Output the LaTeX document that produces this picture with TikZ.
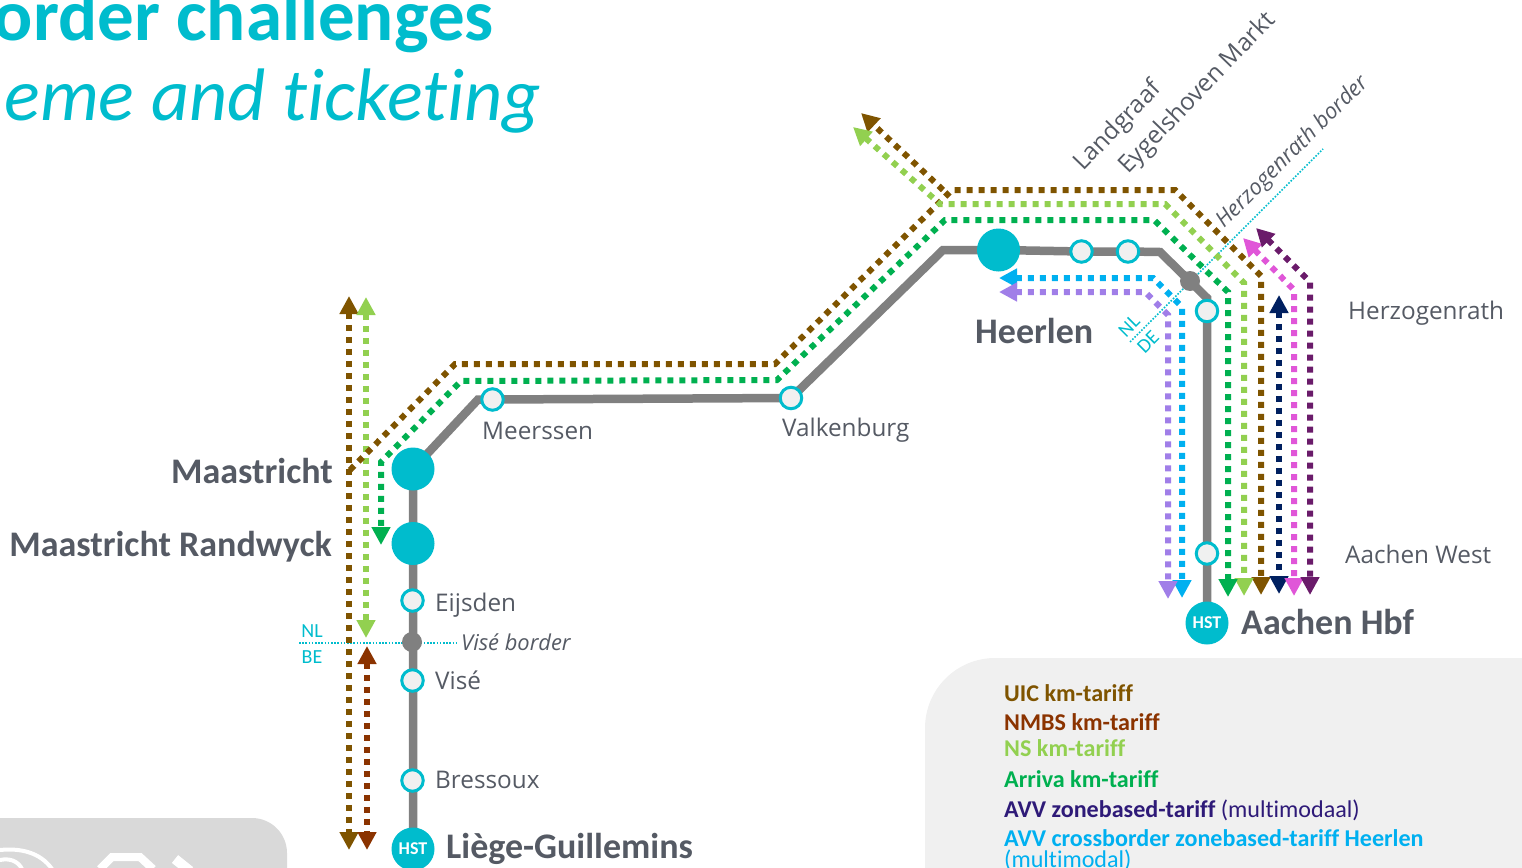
\documentclass[tikz,border=0pt]{standalone}
\usepackage{fontspec}
\setmainfont{Open Sans}
\newfontfamily\carl[Ligatures=NoCommon]{Carlito}
\usetikzlibrary{arrows.meta,backgrounds}
\definecolor{teal1}{HTML}{00BCCD}
\definecolor{ringfill}{HTML}{F0F0F0}
\definecolor{trackgrey}{HTML}{808080}
\definecolor{labelgrey}{HTML}{555A64}
\definecolor{uic}{HTML}{7F5400}
\definecolor{nmbs}{HTML}{8B3300}
\definecolor{nsg}{HTML}{92D050}
\definecolor{arriva}{HTML}{00B050}
\definecolor{navy}{HTML}{002060}
\definecolor{avvtext}{HTML}{2E1A78}
\definecolor{skyb}{HTML}{00B0F0}
\definecolor{lav}{HTML}{A07EE8}
\definecolor{pinkm}{HTML}{E056D8}
\definecolor{purp}{HTML}{6A1B6A}
\tikzset{
  x=1pt,y=-1pt,
  track/.style={draw=trackgrey,line width=8.5pt},
  stn/.style={circle,draw=teal1,line width=3pt,fill=ringfill,minimum size=21.5pt,inner sep=0pt},
  hub/.style={circle,fill=teal1,minimum size=43pt,inner sep=0pt},
  hst/.style={circle,fill=teal1,minimum size=43pt,inner sep=0pt,text=white,font=\carl\bfseries\fontsize{18}{18}\selectfont},
  brd/.style={circle,fill=trackgrey,minimum size=20pt,inner sep=0pt},
  brdline/.style={draw=teal1,line width=1.6pt,dash pattern=on 1.6pt off 1.6pt},
  svc/.style={line width=6pt,dash pattern=on 6pt off 6pt},
  tip/.style={-{Triangle[width=18pt,length=18pt]}},
  tips/.style={{Triangle[width=18pt,length=18pt]}-{Triangle[width=18pt,length=18pt]}},
  stlabel/.style={text=labelgrey,font=\fontsize{24.3}{24.3}\selectfont,inner sep=0pt},
  biglabel/.style={text=labelgrey,font=\carl\bfseries\fontsize{36}{36}\selectfont,inner sep=0pt},
  brdlabel/.style={text=teal1,font=\carl\fontsize{20}{20}\selectfont,inner sep=0pt},
  leg/.style={anchor=base west,inner sep=0pt,font=\carl\fontsize{24.1}{24.1}\selectfont},
  title/.style={text=teal1,anchor=base east,inner sep=0pt,font=\carl\fontsize{71}{71}\selectfont},
}
\begin{document}
\begin{tikzpicture}
\useasboundingbox (0,0) rectangle (1522,867);
% title
\node[title,font=\carl\bfseries\fontsize{73}{73}\selectfont] (t1) at (494,41) {order challenges};
\node[title,font=\carl\itshape\fontsize{74.4}{74.4}\selectfont] (t2) at (541,120) {eme and ticketing};
% stations
\node[hub] (maas) at (413,469) {};
\node[hub] (rand) at (413,543.5) {};
\node[hub] (heer) at (998.5,250) {};
\node[hst] (liege) at (413,849) {HST};
\node[hst] (aach) at (1207,623) {HST};
\node[stn] (eijs) at (412.5,600.5) {};
\node[brd] (vb) at (412,642) {};
\node[stn] (vise) at (412.5,680.5) {};
\node[stn] (bres) at (412.5,780.5) {};
\node[stn] (meer) at (492.5,399.5) {};
\node[stn] (valk) at (791,398) {};
\node[stn] (land) at (1081.5,251.5) {};
\node[stn] (eyg) at (1128,251.5) {};
\node[brd] (hb) at (1190,281) {};
\node[stn] (herz) at (1207,311) {};
\node[stn] (awest) at (1207,553.5) {};
\coordinate (c1) at (478,399.5);
\coordinate (c2) at (943,250);
\coordinate (c3) at (1160,252);
\coordinate (c4) at (1207,298);
\begin{scope}[on background layer]
\fill[ringfill,rounded corners=70pt] (925,658) rectangle (1700,1000);
\fill[black!15,rounded corners=35pt] (-100,818) rectangle (287,950);
\begin{scope}
\clip (0,810) rectangle (300,867);
\draw[white,line width=4pt] (0,850) .. controls (20,848) and (40,852) .. (52,869);
\draw[white,line width=4pt] (0,860) .. controls (10,858) and (18,861) .. (22,869);
\draw[white,line width=8pt] (100,869) -- (112,857) -- (140,857) -- (153,869);
\draw[white,line width=10pt] (175,859) -- (190,871);
\end{scope}
\draw[track] (liege.center) -- (rand.center) -- (maas.center) -- (c1) -- (meer.center) -- (valk.center) -- (c2) -- (heer.center) -- (land.center) -- (eyg.center) -- (c3) -- (c4) -- (herz.center) -- (aach.center);
\coordinate (vl) at (299,643);
\coordinate (vr) at (458,643);
\coordinate (hl) at (1130,342);
\coordinate (hr) at (1323,149);
\draw[brdline] (vl) -- (vr);
\draw[brdline] (hl) -- (hr);
\end{scope}
% service end points
\coordinate (uicT) at (349,296);
\coordinate (uicB) at (349,850);
\coordinate (nsT) at (366,297);
\coordinate (nsB) at (366,638);
\coordinate (nmT) at (367,646);
\coordinate (nmB) at (367,850);
% services
\draw[svc,uic,tips] (uicT) -- (uicB);
\draw[svc,nsg,tips] (nsT) -- (nsB);
\draw[svc,nmbs,tips] (nmT) -- (nmB);
\coordinate (uS) at (350,470);
\coordinate (u1) at (455,364);
\coordinate (u2) at (775,364);
\coordinate (u3) at (952,190);
\coordinate (u4) at (1175,190);
\coordinate (u5) at (1261,276);
\coordinate (uE) at (1261,595);
\draw[svc,uic,tip] (uS) -- (u1) -- (u2) -- (u3) -- (u4) -- (u5) -- (uE);
\coordinate (unw) at (861,113);
\coordinate (uj) at (943,190);
\draw[svc,uic,tip] (uj) -- (unw);
\coordinate (nnw) at (853,127);
\coordinate (n1) at (940,204);
\coordinate (n2) at (1165,204);
\coordinate (n3) at (1244,283);
\coordinate (nE) at (1244,596);
\draw[svc,nsg,tips] (nnw) -- (n1) -- (n2) -- (n3) -- (nE);
\coordinate (aS) at (381,545);
\coordinate (a1) at (381,462);
\coordinate (a2) at (461,381);
\coordinate (a3) at (777,380);
\coordinate (a4) at (945,220);
\coordinate (a5) at (1154,220);
\coordinate (a6) at (1228,292);
\coordinate (aE) at (1228,597);
\draw[svc,arriva,tips] (aE) -- (a6) -- (a5) -- (a4) -- (a3) -- (a2) -- (a1) -- (aS);
\coordinate (nvT) at (1279,295);
\coordinate (nvB) at (1279,594);
\draw[svc,navy,tips] (nvT) -- (nvB);
\coordinate (pS) at (1243,238);
\coordinate (p1) at (1294,290);
\coordinate (pE) at (1294,596);
\draw[svc,pinkm,tips] (pS) -- (p1) -- (pE);
\coordinate (qS) at (1256,228);
\coordinate (q1) at (1310,282);
\coordinate (qE) at (1310,595);
\draw[svc,purp,tips] (qS) -- (q1) -- (qE);
\coordinate (sS) at (999,278);
\coordinate (s1) at (1153,278);
\coordinate (s2) at (1182,307);
\coordinate (sE) at (1182,598);
\draw[svc,skyb,tips] (sS) -- (s1) -- (s2) -- (sE);
\coordinate (lS) at (999,292);
\coordinate (l1) at (1145,292);
\coordinate (l2) at (1168,315);
\coordinate (lE) at (1168,599);
\draw[svc,lav,tips] (lS) -- (l1) -- (l2) -- (lE);
% labels
\node[biglabel,anchor=base east] (lmaas) at (333,483) {Maastricht};
\node[biglabel,anchor=base east] (lrand) at (332,556) {Maastricht Randwyck};
\node[biglabel,anchor=base west] (lheer) at (975,343) {Heerlen};
\node[biglabel,anchor=base west] (laach) at (1241,634) {Aachen Hbf};
\node[biglabel,anchor=base west] (lliege) at (446,858) {Liège-Guillemins};
\node[stlabel,anchor=base west] (leijs) at (435,611) {Eijsden};
\node[stlabel,anchor=base west] (lvise) at (435,689) {Visé};
\node[stlabel,anchor=base west] (lbres) at (435,788) {Bressoux};
\node[stlabel,anchor=base west] (lmeer) at (482,439) {Meerssen};
\node[stlabel,anchor=base west] (lvalk) at (782,436) {Valkenburg};
\node[stlabel,anchor=base west] (lherz) at (1348,319) {Herzogenrath};
\node[stlabel,anchor=base west] (lawest) at (1345,563) {Aachen West};
\node[stlabel,anchor=west,font=\itshape\fontsize{21.9}{21.9}\selectfont] (lvb) at (461,642) {Visé border};
\node[stlabel,anchor=base west,rotate=46] (lland) at (1083,172) {Landgraaf};
\node[stlabel,anchor=base west,rotate=46] (leyg) at (1128,175) {Eygelshoven Markt};
\node[stlabel,anchor=base west,rotate=45,font=\itshape\fontsize{22}{22}\selectfont] (lhb) at (1224,229) {Herzogenrath border};
\node[brdlabel] (nl1) at (312,631) {NL};
\node[brdlabel] (be1) at (312,657) {BE};
\node[brdlabel,rotate=45] (nl2) at (1129,326) {NL};
\node[brdlabel,rotate=45] (de2) at (1148,342) {DE};
% legend
\node[leg,text=uic] (g1) at (1004,701) {\bfseries UIC km-tariff};
\node[leg,text=nmbs] (g2) at (1004,730) {\bfseries NMBS km-tariff};
\node[leg,text=nsg] (g3) at (1004,756) {\bfseries NS km-tariff};
\node[leg,text=arriva] (g4) at (1004,787) {\bfseries Arriva km-tariff};
\node[leg,text=avvtext] (g5) at (1004,817) {\textbf{AVV zonebased-tariff} (multimodaal)};
\node[leg,text=skyb] (g6) at (1004,846) {\textbf{AVV crossborder zonebased-tariff Heerlen}};
\node[leg,text=skyb] (g7) at (1004,867) {(multimodal)};
\end{tikzpicture}
\end{document}
